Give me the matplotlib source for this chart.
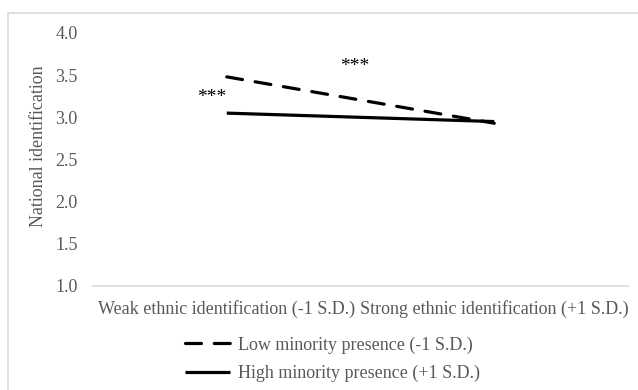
import matplotlib
matplotlib.use('Agg')
import matplotlib.pyplot as plt
from matplotlib.patches import Rectangle

plt.rcParams['font.family'] = ['Liberation Serif', 'DejaVu Serif']

categories = ['Weak ethnic identification (-1 S.D.)',
              'Strong ethnic identification (+1 S.D.)']
low_presence = [3.48, 2.93]
high_presence = [3.05, 2.95]
series_labels = ['Low minority presence (-1 S.D.)',
                 'High minority presence (+1 S.D.)']
y_ticks = [1.0, 1.5, 2.0, 2.5, 3.0, 3.5, 4.0]

grey = '#595959'
fs = 13

fig = plt.figure(figsize=(6.38, 3.9), dpi=100)
fig.patches.append(Rectangle((8 / 638, -0.1), 1.2, 1 - 13 / 390 + 0.1,
                             transform=fig.transFigure, fill=False,
                             edgecolor='#d9d9d9', linewidth=1.2))

ax = fig.add_axes([93 / 638, 1 - 286 / 390, 535 / 638, 253 / 390])
x = [0, 1]
ax.plot(x, low_presence, color='black', linewidth=2.3, linestyle=(0, (5, 4)),
        dash_capstyle='round', label=series_labels[0])
ax.plot(x, high_presence, color='black', linewidth=2.3,
        solid_capstyle='butt', label=series_labels[1])

ax.set_xlim(-0.5, 1.5)
ax.set_ylim(1.0, 4.0)
ax.set_yticks(y_ticks)
ax.set_yticklabels(['%.1f' % v for v in y_ticks])
ax.set_xticks(x)
ax.set_xticklabels(categories)
ax.tick_params(length=0, labelsize=fs, colors=grey)
ax.tick_params(axis='y', pad=11)
ax.tick_params(axis='x', pad=10)
for s in ['top', 'right', 'left']:
    ax.spines[s].set_visible(False)
ax.spines['bottom'].set_color('#d9d9d9')
ax.spines['bottom'].set_linewidth(1.2)
ax.set_ylabel('National identification', fontsize=fs, color=grey)
ax.yaxis.set_label_coords(-0.086, 0.553)

# significance markers
ax.text(-0.056, 3.23, '***', fontsize=14, ha='center', va='center')
ax.text(0.48, 3.6, '***', fontsize=14, ha='center', va='center')

leg = ax.legend(loc='upper left', bbox_to_anchor=(85 / 535, -0.17),
                frameon=False, fontsize=fs, handlelength=2.5,
                handletextpad=0.4, labelspacing=0.62, borderaxespad=0)
for t in leg.get_texts():
    t.set_color(grey)

fig.savefig('out.png', dpi=100)
